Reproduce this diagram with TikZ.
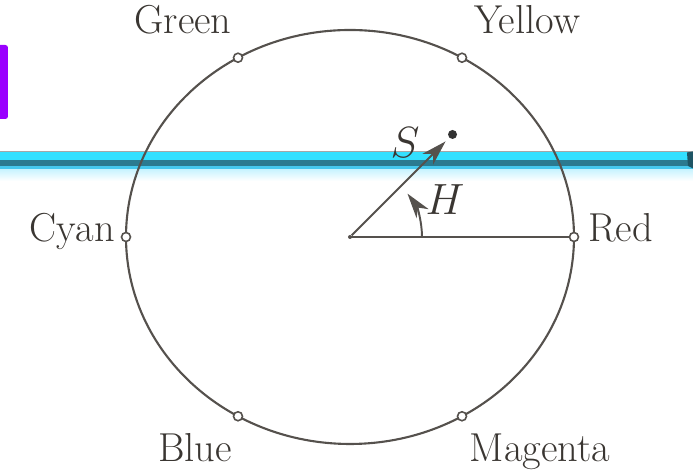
\documentclass[tikz,border=0pt]{standalone}
\usetikzlibrary{arrows.meta, positioning}
\definecolor{hsiline}{HTML}{55514D}
\definecolor{hsitext}{HTML}{3A3632}
\definecolor{barcyan}{HTML}{33E0FF}
\definecolor{barteal}{HTML}{2B7A90}
\definecolor{barlight}{HTML}{45C8EE}
\definecolor{barpale}{HTML}{C4F2FF}
\definecolor{tabpurple}{HTML}{9A00FF}

\begin{document}
\begin{tikzpicture}[
    every node/.style={font=\fontsize{23}{26}\selectfont, text=hsitext},
    huedot/.style={circle, draw=hsiline, fill=white, line width=0.9pt,
                   inner sep=0pt, minimum size=0.18cm},
    hue/.style={inner sep=0pt},
    >={Stealth[length=5mm, width=3mm, inset=1.5mm]},
  ]
  \useasboundingbox (-7,-4.74) rectangle (6.96,4.74);

  % tab and bar lying over the page
  \fill[tabpurple, rounded corners=1.5pt] (-7.2,3.84) rectangle (-6.84,2.36);
  \shade[top color=barpale, bottom color=white] (-7,1.37) rectangle (6.86,1.12);
  \fill[barlight] (-7,1.43) rectangle (6.86,1.36);
  \fill[barteal]  (-7,1.53) rectangle (6.86,1.42);
  \fill[barcyan]  (-7,1.69) rectangle (6.86,1.53);
  \fill[gray!70]  (-7,1.71) rectangle (6.86,1.69);
  \fill[barteal!70!black] (6.74,1.69) -- (6.86,1.71) -- (6.86,1.37) -- (6.76,1.42) -- cycle;

  % hue circle
  \draw[hsiline, line width=1.2pt] (0,0) ellipse [x radius=4.48, y radius=4.14];
  \draw[hsiline, line width=1.1pt] (0,0) -- (4.48,0);

  \node[huedot] (red)     at (0:4.48 and 4.14)   {};
  \node[huedot] (yellow)  at (60:4.48 and 4.14)  {};
  \node[huedot] (green)   at (120:4.48 and 4.14) {};
  \node[huedot] (cyan)    at (180:4.48 and 4.14) {};
  \node[huedot] (blue)    at (240:4.48 and 4.14) {};
  \node[huedot] (magenta) at (300:4.48 and 4.14) {};

  \node[hue, anchor=base]      (lgreen)   at (-3.34,4.06) {Green};
  \node[hue, anchor=base]      (lyellow)  at (3.54,4.06)  {Yellow};
  \node[hue, anchor=base east] (lcyan)    at (-4.7,-0.1)  {Cyan};
  \node[hue, anchor=base west] (lred)     at (4.76,-0.1)  {Red};
  \node[hue, anchor=base]      (lblue)    at (-3.1,-4.5)  {Blue};
  \node[hue, anchor=base]      (lmagenta) at (3.8,-4.5)   {Magenta};

  % saturation vector and hue angle
  \node[circle, fill=hsiline, inner sep=0pt, minimum size=0.08cm] (o) at (0,0) {};
  \node[circle, fill=black!80, inner sep=0pt, minimum size=0.18cm] (s) at (45:2.9) {};
  \draw[->, hsiline, line width=1.1pt, shorten >=0.1cm] (o) -- (s);
  \node (lsat) at (1.1,1.88) {$S$};

  \coordinate (h0) at (1.44,0);
  \draw[->, hsiline, line width=1.1pt] (h0) arc[start angle=0, end angle=37, radius=1.44];
  \node (lhue) at (1.9,0.74) {$H$};
\end{tikzpicture}
\end{document}
